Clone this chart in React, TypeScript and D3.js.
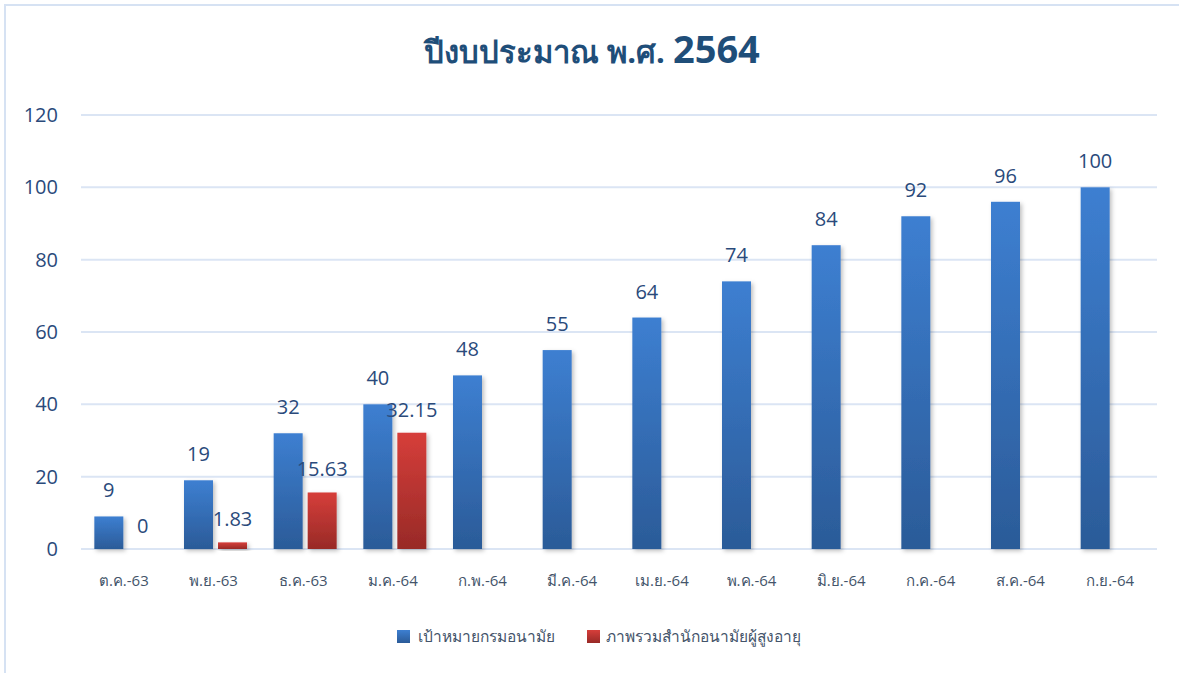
import React from 'react';
import * as d3 from 'd3';

const categories = ['ต.ค.-63', 'พ.ย.-63', 'ธ.ค.-63', 'ม.ค.-64', 'ก.พ.-64', 'มี.ค.-64', 'เม.ย.-64', 'พ.ค.-64', 'มิ.ย.-64', 'ก.ค.-64', 'ส.ค.-64', 'ก.ย.-64'];
const targetValues = [9, 19, 32, 40, 48, 55, 64, 74, 84, 92, 96, 100];
const actualValues: (number | null)[] = [0, 1.83, 15.63, 32.15, null, null, null, null, null, null, null, null];
const yTicks = [0, 20, 40, 60, 80, 100, 120];
const seriesNames = ['เป้าหมายกรมอนามัย', 'ภาพรวมสำนักอนามัยผู้สูงอายุ'];

const W = 1179;
const H = 673;
const FONT = "'Open Sans', 'Noto Sans', sans-serif";

const App = () => {
    const x = d3.scaleBand().domain(categories).range([81, 1157]);
    const y = d3.scaleLinear().domain([0, 120]).range([549, 115]);
    const barW = 29;
    const gap = 5;

    return (
        <svg width={W} height={H} style={{ position: 'absolute', left: 0, top: 0, background: '#fff' }}>
            <defs>
                <linearGradient id="gBlue" x1="0" y1="0" x2="0" y2="1">
                    <stop offset="0" stopColor="#3d7fd1" />
                    <stop offset="1" stopColor="#2b5b98" />
                </linearGradient>
                <linearGradient id="gRed" x1="0" y1="0" x2="0" y2="1">
                    <stop offset="0" stopColor="#d63e3a" />
                    <stop offset="1" stopColor="#982a27" />
                </linearGradient>
                <filter id="shadow" x="-30%" y="-10%" width="160%" height="130%">
                    <feDropShadow dx="2" dy="2" stdDeviation="2" floodColor="#000" floodOpacity="0.25" />
                </filter>
            </defs>

            {/* frame */}
            <line x1={5} x2={5} y1={4} y2={H} stroke="#d6e2f3" strokeWidth={2} />
            <line x1={4} x2={W} y1={5} y2={5} stroke="#d6e2f3" strokeWidth={2} />

            <text x={592} y={63} textAnchor="middle" fontFamily={FONT} fontWeight="bold" fill="#1f4e79">
                <tspan fontSize={31}>ปีงบประมาณ พ.ศ. </tspan>
                <tspan fontSize={38}>2564</tspan>
            </text>

            {yTicks.map(t => (
                <g key={t}>
                    <line x1={81} x2={1157} y1={y(t)} y2={y(t)} stroke="#dbe5f4" strokeWidth={2} />
                    <text x={58} y={y(t)} dy="0.35em" textAnchor="end" fontFamily={FONT} fontSize={20} fill="#2a4a7b">{t}</text>
                </g>
            ))}

            {categories.map((c, i) => {
                const cx = (x(c) as number) + x.bandwidth() / 2;
                const tv = targetValues[i];
                const av = actualValues[i];
                return (
                    <g key={c}>
                        <rect x={cx - gap / 2 - barW} y={y(tv)} width={barW} height={y(0) - y(tv)} fill="url(#gBlue)" filter="url(#shadow)" />
                        <text x={cx - gap / 2 - barW / 2} y={y(tv) - 19} textAnchor="middle" fontFamily={FONT} fontSize={20} fill="#2a4a7b">{tv}</text>
                        {av !== null && (
                            <>
                                <rect x={cx + gap / 2} y={y(av)} width={barW} height={y(0) - y(av)} fill="url(#gRed)" filter="url(#shadow)" />
                                <text x={cx + gap / 2 + barW / 2} y={y(av) - 16} textAnchor="middle" fontFamily={FONT} fontSize={20} fill="#2a4a7b">{av}</text>
                            </>
                        )}
                        <text x={cx - 2} y={586} textAnchor="middle" fontFamily={FONT} fontSize={15} fill="#44546a">{c}</text>
                    </g>
                );
            })}

            <g fontFamily={FONT} fontSize={15.5} fill="#44546a">
                <rect x={397} y={630} width={13} height={13} fill="url(#gBlue)" />
                <text x={418} y={642}>{seriesNames[0]}</text>
                <rect x={587} y={630} width={13} height={13} fill="url(#gRed)" />
                <text x={606} y={642}>{seriesNames[1]}</text>
            </g>
        </svg>
    );
};

export default App;
